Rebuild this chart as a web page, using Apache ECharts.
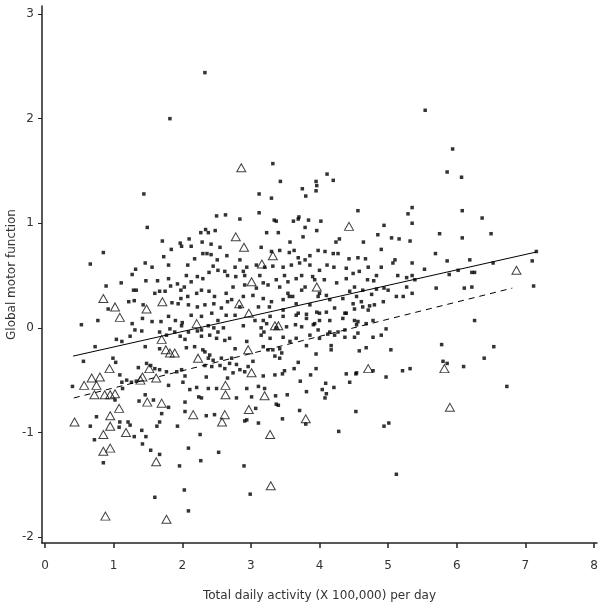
<!DOCTYPE html>
<html>
<head>
<meta charset="utf-8">
<script src="https://cdn.jsdelivr.net/npm/echarts@6/dist/echarts.min.js"></script>
<style>html,body{margin:0;padding:0;background:#fff}#c{width:604px;height:609px}</style>
</head>
<body>
<div id="c"></div>
<script>
const xTicks = [0,1,2,3,4,5,6,7,8];
const yTicks = [-2,-1,0,1,2,3];
const xTitle = 'Total daily activity (X 100,000) per day';
const yTitle = 'Global motor function';

// small filled squares
const squares = [
[1.82,2.00],[2.33,2.44],
[1.44,1.28],[1.49,0.96],[2.50,1.07],[2.63,1.08],[2.27,0.91],[2.34,0.94],[2.38,0.91],[2.48,0.93],[1.71,0.83],[1.97,0.81],[2.10,0.85],[2.13,0.78],[2.29,0.82],[2.42,0.80],[2.55,0.77],[1.84,0.75],[1.99,0.78],[1.46,0.62],[1.56,0.58],[1.73,0.68],[1.80,0.60],[2.08,0.60],[2.18,0.66],[2.30,0.71],[2.36,0.71],[2.42,0.70],[2.51,0.65],[2.65,0.69],[0.85,0.72],[0.66,0.61],[1.27,0.51],[1.32,0.56],[1.80,0.47],[1.93,0.42],[2.03,0.39],[2.13,0.44],[2.22,0.49],[2.30,0.47],[2.39,0.53],[2.45,0.59],[2.52,0.55],[2.62,0.54],[2.66,0.50],[1.47,0.45],[1.64,0.45],[2.06,0.50],[0.89,0.40],[1.11,0.43],[1.29,0.36],[1.33,0.36],[1.60,0.33],[1.67,0.35],[1.75,0.35],[1.83,0.40],[1.98,0.36],[1.98,0.28],[2.08,0.30],[2.21,0.33],[2.28,0.36],[2.39,0.35],[2.47,0.30],[2.64,0.33],[1.22,0.25],[1.30,0.26],[1.43,0.22],[1.85,0.24],[1.94,0.23],[2.09,0.22],[2.22,0.20],[2.33,0.22],[2.46,0.23],[2.57,0.19],[2.66,0.25],[0.92,0.18],[0.53,0.03],[0.77,0.07],[1.27,0.04],[1.42,0.09],[1.56,0.06],[1.69,0.06],[1.80,0.11],[1.90,0.07],[2.00,0.05],[2.13,0.12],[2.28,0.11],[2.43,0.14],[2.52,0.07],[2.64,0.12],[1.31,-0.02],[1.41,-0.03],[1.67,-0.04],[1.82,-0.01],[1.89,-0.04],[1.99,0.02],[2.09,-0.04],[2.22,-0.03],[2.28,-0.02],[2.38,0.02],[2.46,0.00],[2.52,-0.04],[2.60,0.00],[1.24,-0.08],[1.12,-0.13],[1.04,-0.11],[1.77,-0.07],[1.97,-0.08],[2.04,-0.11],[2.28,-0.08],[2.40,-0.07],[2.50,-0.10],[2.62,-0.12],
[0.56,-0.32],[0.73,-0.18],[0.99,-0.29],[1.03,-0.33],[1.36,-0.38],[1.48,-0.34],[1.54,-0.36],[1.60,-0.39],[1.67,-0.40],[1.09,-0.45],[1.19,-0.50],[0.40,-0.56],[1.12,-0.52],[1.26,-0.52],[1.33,-0.51],[1.02,-0.69],[1.13,-0.58],[1.46,-0.64],[1.37,-0.70],[1.58,-0.69],[1.80,-0.76],[0.75,-0.85],[0.66,-0.94],[1.09,-0.90],[1.21,-0.90],[1.24,-0.93],[1.08,-0.95],[0.72,-1.07],[1.30,-1.04],[1.41,-0.98],[1.47,-1.04],[1.70,-0.82],[1.67,-0.90],[1.63,-0.94],[1.42,-1.11],[1.54,-1.17],[1.67,-1.21],[0.85,-1.29],[1.93,-0.94],[1.96,-1.32],[1.60,-1.62],[2.03,-1.55],[2.09,-1.75],[2.27,-1.27],[2.09,-1.15],[2.53,-1.19],[2.26,-1.02],[2.35,-0.84],[2.47,-0.83],[2.04,-0.80],[2.04,-0.71],[2.01,-0.52],[2.11,-0.59],[1.92,-0.42],[1.99,-0.40],[2.04,-0.46],[2.21,-0.57],[2.24,-0.66],[2.28,-0.67],[2.35,-0.47],[2.38,-0.58],[2.50,-0.58],[2.43,-0.37],[2.33,-0.36],[2.45,-0.31],[2.38,-0.29],[2.55,-0.36],[2.62,-0.39],[2.66,-0.48],[1.77,-0.42],[1.80,-0.55],[2.06,-0.19],[2.18,-0.18],[2.30,-0.21],[2.33,-0.23],[2.40,-0.26],[2.57,-0.29],[1.67,-0.20],[1.46,-0.18],
[3.32,1.57],[3.43,1.40],[3.12,1.28],[3.30,1.24],[3.75,1.33],[3.80,1.26],[3.95,1.40],[3.96,1.36],[3.95,1.31],[4.11,1.47],[4.20,1.41],
[3.12,1.10],[2.84,1.04],[3.34,1.03],[3.37,1.02],[3.62,1.02],[3.69,1.04],[3.70,1.06],[3.84,1.03],[4.02,1.02],[3.79,0.96],[4.56,1.12],
[3.23,0.91],[3.40,0.91],[3.57,0.82],[3.76,0.87],[3.96,0.93],[4.24,0.82],[4.29,0.85],[4.64,0.82],[4.94,0.98],[4.85,0.89],[5.05,0.86],[5.16,0.85],[5.29,1.09],[5.35,1.15],[5.35,1.00],
[3.15,0.77],[3.30,0.73],[3.42,0.74],[3.56,0.72],[3.63,0.74],[3.69,0.67],[3.79,0.65],[3.86,0.69],[3.98,0.74],[4.08,0.73],[4.20,0.71],[4.27,0.71],[4.43,0.66],[4.56,0.67],[4.67,0.66],[4.90,0.58],[5.07,0.62],[5.10,0.65],[5.35,0.62],
[2.84,0.65],[2.77,0.58],[2.94,0.58],[2.89,0.54],[3.08,0.60],[3.20,0.58],[3.32,0.59],[3.47,0.58],[3.59,0.60],[3.71,0.62],[3.86,0.60],[4.00,0.55],[4.11,0.60],[4.21,0.58],[4.39,0.57],[4.49,0.52],[4.58,0.54],[4.71,0.58],[4.83,0.50],[5.35,0.50],
[2.78,0.49],[2.91,0.50],[3.13,0.50],[3.18,0.43],[3.37,0.46],[3.49,0.50],[3.54,0.44],[3.66,0.47],[3.74,0.50],[3.90,0.49],[3.93,0.46],[4.07,0.46],[4.25,0.43],[4.39,0.47],[4.51,0.39],[4.70,0.46],[4.79,0.45],[4.94,0.38],[5.14,0.50],[5.27,0.48],[5.39,0.46],
[2.74,0.39],[2.91,0.41],[3.08,0.38],[3.25,0.41],[3.42,0.39],[3.54,0.33],[3.61,0.30],[3.74,0.36],[3.79,0.39],[4.00,0.33],[4.10,0.31],[4.44,0.35],[4.54,0.30],[4.63,0.36],[4.76,0.32],[4.83,0.37],[5.00,0.36],[5.22,0.30],[5.27,0.39],
[2.72,0.27],[2.89,0.30],[3.03,0.31],[3.18,0.28],[3.30,0.25],[3.47,0.27],[3.56,0.30],[3.66,0.23],[3.86,0.22],[3.98,0.30],[4.15,0.27],[4.34,0.28],[4.49,0.23],[4.61,0.25],[4.63,0.20],[4.73,0.21],[4.80,0.22],[4.93,0.25],[5.12,0.30],[5.35,0.33],
[2.84,0.20],[3.11,0.20],[3.27,0.20],[3.47,0.17],[3.69,0.14],[3.81,0.13],[3.96,0.15],[4.00,0.14],[4.10,0.15],[4.22,0.19],[4.37,0.14],[4.51,0.18],[4.71,0.17],
[2.77,0.12],[3.06,0.07],[3.18,0.07],[3.28,0.11],[3.47,0.11],[3.66,0.12],[3.81,0.09],[3.93,0.04],[4.00,0.07],[4.15,0.07],[4.34,0.09],[4.39,0.14],[4.51,0.07],[4.56,0.06],[4.78,0.07],[4.97,-0.01],
[2.89,0.02],[3.15,0.00],[3.19,-0.04],[3.23,0.04],[3.37,0.00],[3.52,0.01],[3.65,0.03],[3.74,0.01],[3.91,0.03],[3.98,-0.02],[4.15,-0.04],[4.27,-0.04],[4.37,-0.02],[4.54,0.03],[4.56,-0.05],[4.68,0.04],
[2.69,-0.10],[2.94,-0.13],[3.15,-0.07],[3.28,-0.10],[3.47,-0.09],[3.57,-0.13],[3.66,-0.10],[3.86,-0.07],[4.00,-0.10],[4.12,-0.06],[4.22,-0.07],[4.37,-0.09],[4.51,-0.09],[4.78,-0.09],[4.90,-0.07],
[5.32,0.83],[4.90,0.75],
[2.77,-0.20],[2.72,-0.29],[2.69,-0.34],[2.79,-0.35],[2.74,-0.43],[2.84,-0.40],[2.91,-0.42],[2.96,-0.37],[3.03,-0.32],[3.18,-0.18],[3.25,-0.21],[3.32,-0.21],[3.42,-0.20],[3.45,-0.24],[3.42,-0.29],[3.35,-0.27],[3.81,-0.17],[3.95,-0.25],[4.17,-0.21],[4.17,-0.17],[4.58,-0.22],[4.68,-0.19],[5.04,-0.21],[3.69,-0.33],[3.63,-0.39],[3.49,-0.41],[3.46,-0.44],[3.35,-0.45],[3.18,-0.46],[3.95,-0.39],[3.87,-0.45],[3.72,-0.51],[4.39,-0.44],[4.53,-0.44],[4.54,-0.43],[4.44,-0.52],[4.78,-0.41],[5.21,-0.41],[5.32,-0.39],[4.97,-0.47],[4.09,-0.53],[4.21,-0.57],[4.04,-0.59],[4.10,-0.63],[4.08,-0.67],[3.81,-0.61],[3.53,-0.64],[3.36,-0.65],[3.20,-0.58],[3.11,-0.56],[2.94,-0.58],[3.01,-0.66],[2.79,-0.67],[3.37,-0.73],[3.40,-0.74],[3.07,-0.77],[3.71,-0.79],[4.53,-0.80],[3.46,-0.87],[2.94,-0.88],[2.91,-0.89],[3.11,-0.91],[3.80,-0.92],[4.28,-0.99],[4.94,-0.94],[5.01,-0.91],[2.90,-1.32],[2.99,-1.59],[5.12,-1.40],
[5.54,2.08],[5.94,1.71],[5.86,1.49],[6.07,1.44],[6.08,1.12],[6.37,1.05],[5.75,0.90],[6.08,0.86],[6.50,0.90],[5.69,0.71],[5.86,0.64],[6.19,0.65],[6.53,0.62],[7.16,0.73],[7.10,0.64],[5.53,0.56],[5.89,0.51],[6.02,0.55],[6.22,0.53],[6.26,0.53],[5.70,0.38],[6.11,0.38],[6.22,0.39],[7.12,0.40],[6.26,0.07],[5.78,-0.16],[6.54,-0.18],[6.40,-0.29],[5.80,-0.32],[5.86,-0.34],[6.10,-0.37],[6.73,-0.56]
];

// open triangles
const triangles = [
[0.94,-0.39],[0.68,-0.48],[0.80,-0.47],[0.57,-0.55],[0.75,-0.55],[0.72,-0.64],[0.87,-0.64],[1.02,-0.63],[0.95,-0.64],[1.08,-0.77],[0.95,-0.84],[0.95,-0.94],[0.43,-0.90],[1.18,-1.00],[0.85,-1.02],[0.85,-1.18],[0.95,-1.15],[1.49,-0.71],[1.70,-0.72],[1.52,-0.39],[1.42,-0.47],[1.39,-0.50],[1.62,-0.48],[1.62,-1.28],[1.76,-0.21],[1.82,-0.24],[1.89,-0.24],[2.23,-0.29],[2.16,-0.83],[2.63,-0.55],[2.63,-0.64],[2.58,-0.90],[2.62,-0.83],[0.88,-1.80],[1.77,-1.83],
[0.85,0.28],[1.02,0.20],[1.09,0.10],[1.48,0.18],[1.71,0.25],[2.21,0.04],[1.70,-0.11],
[2.86,1.53],[2.78,0.87],[2.90,0.77],[3.32,0.69],[3.16,0.61],[3.01,0.44],[3.96,0.39],[4.43,0.97],[2.83,0.23],[2.97,0.14],[3.35,0.02],[3.40,0.02],
[2.96,-0.21],[3.01,-0.43],[3.20,-0.65],[2.97,-0.78],[3.80,-0.87],[3.28,-1.02],[3.29,-1.51],[4.71,-0.39],[5.82,-0.39],[5.90,-0.76],[6.87,0.55]
];

// fitted lines (end points)
const solidLine = [[0.41,-0.27],[7.16,0.725]];
const dashedLine = [[0.42,-0.67],[6.81,0.38]];

const font = 'DejaVu Sans, Verdana, sans-serif';
const axisColor = '#222';
const chart = echarts.init(document.getElementById('c'), null, {renderer:'canvas'});
chart.setOption({
  animation: false,
  backgroundColor: '#fff',
  grid: {left: 42, right: 7, top: 6, bottom: 66, containLabel: false, outerBoundsMode: 'none'},
  xAxis: {
    type: 'value', min: -0.044, max: 8.044,
    name: xTitle, nameLocation: 'middle', nameGap: 47, nameMoveOverlap: false,
    nameTextStyle: {fontFamily: font, fontSize: 12, color: '#333'},
    axisLine: {onZero: false, lineStyle: {color: axisColor, width: 1.5}},
    axisTick: {customValues: xTicks, length: 5, lineStyle: {color: axisColor, width: 1.5}},
    axisLabel: {customValues: xTicks, fontFamily: font, fontSize: 12, color: '#333', margin: 17},
    splitLine: {show: false}
  },
  yAxis: {
    type: 'value', min: -2.057, max: 3.077,
    name: yTitle, nameLocation: 'middle', nameGap: 24, nameMoveOverlap: false,
    nameTextStyle: {fontFamily: font, fontSize: 12, color: '#333'},
    axisLine: {onZero: false, lineStyle: {color: axisColor, width: 1.5}},
    axisTick: {customValues: yTicks, length: 4, lineStyle: {color: axisColor, width: 1}},
    axisLabel: {customValues: yTicks, fontFamily: font, fontSize: 12, color: '#333', margin: 8},
    splitLine: {show: false}
  },
  series: [
    {type: 'scatter', data: squares, symbol: 'rect', symbolSize: 3.5,
     itemStyle: {color: '#000'}, z: 2},
    {type: 'line', data: solidLine, showSymbol: false, symbol: 'none',
     lineStyle: {color: '#000', width: 1}, z: 3},
    {type: 'line', data: dashedLine, showSymbol: false, symbol: 'none',
     lineStyle: {color: '#000', width: 1, type: [6, 5]}, z: 3},
    {type: 'scatter', data: triangles, symbol: 'triangle', symbolSize: [9, 8],
     itemStyle: {color: 'rgba(255,255,255,0)', borderColor: '#111', borderWidth: 1}, z: 4}
  ]
});
</script>
</body>
</html>
